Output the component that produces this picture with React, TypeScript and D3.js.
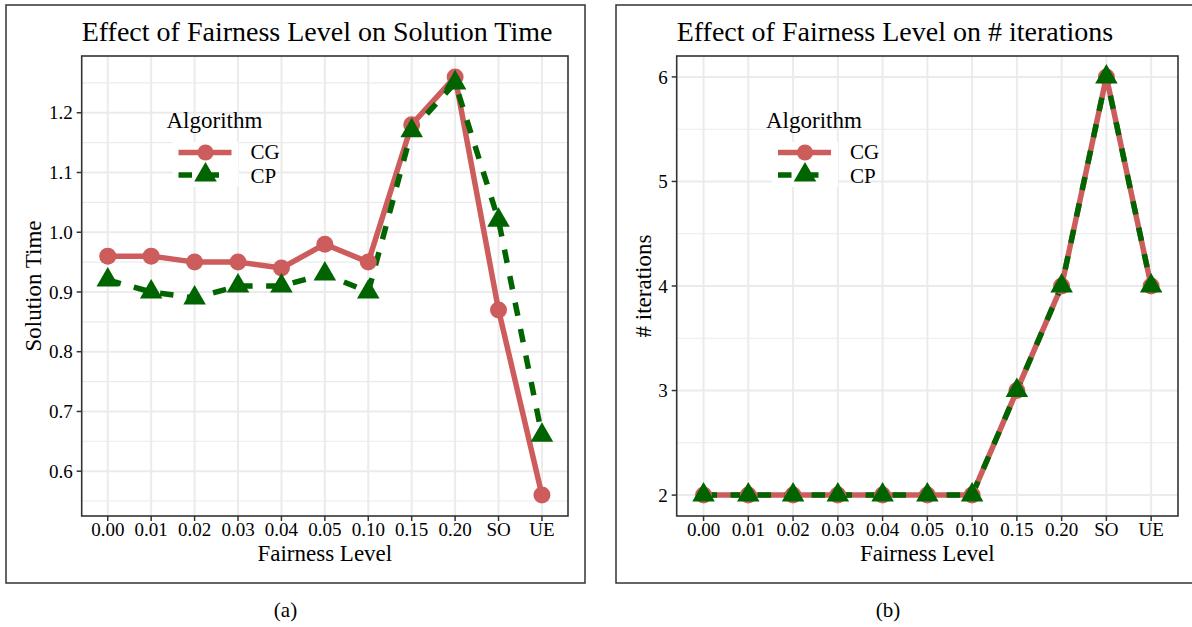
import React from "react";
import * as d3 from "d3";

// fairness levels on the x axis
const levels = ["0.00", "0.01", "0.02", "0.03", "0.04", "0.05", "0.10", "0.15", "0.20", "SO", "UE"];

// panel (a): solution time
const timeCG = [0.96, 0.96, 0.95, 0.95, 0.94, 0.98, 0.95, 1.18, 1.26, 0.87, 0.56];
const timeCP = [0.92, 0.9, 0.89, 0.91, 0.91, 0.93, 0.9, 1.17, 1.25, 1.02, 0.66];
const timeTicks = [0.6, 0.7, 0.8, 0.9, 1.0, 1.1, 1.2];

// panel (b): number of iterations
const iterCG = [2, 2, 2, 2, 2, 2, 2, 3, 4, 6, 4];
const iterCP = [2, 2, 2, 2, 2, 2, 2, 3, 4, 6, 4];
const iterTicks = [2, 3, 4, 5, 6];

const algorithms = ["CG", "CP"];
const colors: Record<string, string> = { CG: "#CD5C5C", CP: "#006400" };

const FONT = "'Liberation Serif', 'Times New Roman', serif";
const TOP = 56;
const BOTTOM = 516;
const triangle = d3.symbol(d3.symbolTriangle, 220)();

type PanelProps = {
  left: number;
  right: number;
  title: string;
  ylabel: string;
  ylabelX: number;
  cg: number[];
  cp: number[];
  ticks: number[];
  tickFmt: (v: number) => string;
  legendX: number;
};

function Panel(p: PanelProps) {
  const x = d3.scalePoint<string>().domain(levels).range([p.left, p.right]).padding(0.6);
  const [lo, hi] = d3.extent([...p.cg, ...p.cp]) as [number, number];
  const pad = (hi - lo) * 0.05;
  const y = d3.scaleLinear().domain([lo - pad, hi + pad]).range([BOTTOM, TOP]);
  const step = p.ticks[1] - p.ticks[0];
  const minor = Array.from(
    new Set(p.ticks.flatMap((t) => [t - step / 2, t + step / 2]).map((v) => +v.toFixed(4)))
  ).filter((v) => v > y.domain()[0] && v < y.domain()[1]);

  const line = d3
    .line<number>()
    .x((_, i) => x(levels[i])!)
    .y((d) => y(d));
  const series = [
    { key: "CG", values: p.cg },
    { key: "CP", values: p.cp },
  ];

  return (
    <g>
      <text x={p.left} y={41} fontSize={28} fontFamily={FONT}>
        {p.title}
      </text>
      {/* grid */}
      {minor.map((v) => (
        <line key={"m" + v} x1={p.left} x2={p.right} y1={y(v)} y2={y(v)} stroke="#EBEBEB" strokeWidth={1.1} />
      ))}
      {p.ticks.map((v) => (
        <line key={"h" + v} x1={p.left} x2={p.right} y1={y(v)} y2={y(v)} stroke="#EBEBEB" strokeWidth={2} />
      ))}
      {levels.map((l) => (
        <line key={"v" + l} x1={x(l)} x2={x(l)} y1={TOP} y2={BOTTOM} stroke="#EBEBEB" strokeWidth={2} />
      ))}
      {/* lines */}
      {series.map((s) => (
        <path
          key={s.key}
          d={line(s.values)!}
          fill="none"
          stroke={colors[s.key]}
          strokeWidth={5.5}
          strokeLinejoin="round"
          strokeDasharray={s.key === "CP" ? "13.5,13.5" : undefined}
        />
      ))}
      {/* points */}
      {series.map((s) =>
        s.values.map((v, i) =>
          s.key === "CG" ? (
            <circle key={s.key + i} cx={x(levels[i])} cy={y(v)} r={8.5} fill={colors.CG} />
          ) : (
            <path key={s.key + i} d={triangle!} transform={`translate(${x(levels[i])},${y(v)})`} fill={colors.CP} />
          )
        )
      )}
      {/* legend */}
      <g fontFamily={FONT}>
        <text x={p.legendX} y={128} fontSize={23}>
          Algorithm
        </text>
        <rect x={p.legendX + 6} y={142} width={66} height={45} fill="white" />
        {algorithms.map((a, i) => {
          const ky = 152.5 + i * 22.5;
          return (
            <g key={a}>
              <line
                x1={p.legendX + 12}
                x2={p.legendX + 65}
                y1={ky}
                y2={ky}
                stroke={colors[a]}
                strokeWidth={5.5}
                strokeDasharray={a === "CP" ? "13.5,13.5" : undefined}
              />
              {a === "CG" ? (
                <circle cx={p.legendX + 39} cy={ky} r={8} fill={colors.CG} />
              ) : (
                <path d={triangle!} transform={`translate(${p.legendX + 39},${ky})`} fill={colors.CP} />
              )}
              <text x={p.legendX + 84} y={i === 0 ? 159 : 183} fontSize={21}>
                {a}
              </text>
            </g>
          );
        })}
      </g>
      {/* panel border */}
      <rect x={p.left} y={TOP} width={p.right - p.left} height={BOTTOM - TOP} fill="none" stroke="#333" strokeWidth={1.6} />
      {/* y axis */}
      {p.ticks.map((v) => (
        <g key={"yt" + v}>
          <line x1={p.left - 5} x2={p.left} y1={y(v)} y2={y(v)} stroke="#333" strokeWidth={1.5} />
          <text x={p.left - 9} y={y(v)} dy="0.35em" textAnchor="end" fontSize={19} fontFamily={FONT}>
            {p.tickFmt(v)}
          </text>
        </g>
      ))}
      {/* x axis */}
      {levels.map((l) => (
        <g key={"xt" + l}>
          <line x1={x(l)} x2={x(l)} y1={BOTTOM} y2={BOTTOM + 5} stroke="#333" strokeWidth={1.5} />
          <text x={x(l)} y={536} textAnchor="middle" fontSize={19} fontFamily={FONT}>
            {l}
          </text>
        </g>
      ))}
      <text x={(p.left + p.right) / 2} y={561} textAnchor="middle" fontSize={23} fontFamily={FONT}>
        Fairness Level
      </text>
      <text
        transform={`translate(${p.ylabelX},${(TOP + BOTTOM) / 2}) rotate(-90)`}
        textAnchor="middle"
        fontSize={23}
        fontFamily={FONT}
      >
        {p.ylabel}
      </text>
    </g>
  );
}

export default function App() {
  return (
    <svg
      width={1192}
      height={627}
      style={{ position: "absolute", left: 0, top: 0, background: "white" }}
    >
      <rect x={6} y={5} width={579} height={578} fill="none" stroke="#333" strokeWidth={1.5} />
      <rect x={616} y={5} width={590} height={578} fill="none" stroke="#333" strokeWidth={1.5} />
      <Panel
        left={81.7}
        right={568}
        title="Effect of Fairness Level on Solution Time"
        ylabel="Solution Time"
        ylabelX={41}
        cg={timeCG}
        cp={timeCP}
        ticks={timeTicks}
        tickFmt={d3.format(".1f")}
        legendX={166.5}
      />
      <Panel
        left={676.7}
        right={1178}
        title="Effect of Fairness Level on # iterations"
        ylabel="# iterations"
        ylabelX={651}
        cg={iterCG}
        cp={iterCP}
        ticks={iterTicks}
        tickFmt={d3.format("d")}
        legendX={766}
      />
      <text x={285.5} y={617} textAnchor="middle" fontSize={21} fontFamily={FONT}>
        (a)
      </text>
      <text x={888} y={617} textAnchor="middle" fontSize={21} fontFamily={FONT}>
        (b)
      </text>
    </svg>
  );
}
